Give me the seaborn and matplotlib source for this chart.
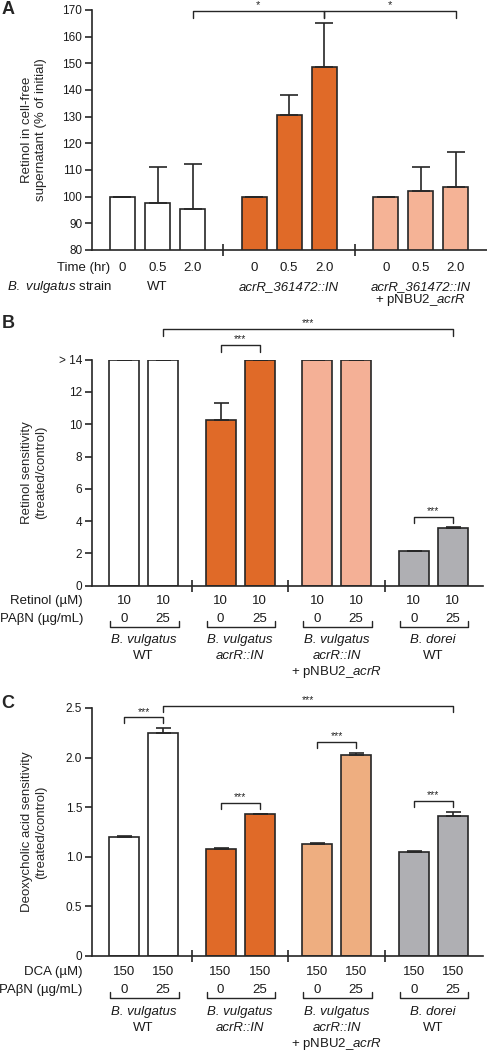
import matplotlib
matplotlib.use('Agg')
import matplotlib.pyplot as plt
import matplotlib.transforms as mtransforms
import seaborn as sns
import numpy as np
import pandas as pd

# ---- Panel A : retinol left in supernatant ----
a_time = ['0', '0.5', '2.0']
a_strains = ['WT', 'acrR_361472::IN', 'acrR_361472::IN + pNBU2_acrR']
a_mean = [100, 97.8, 95.2, 100, 130.5, 148.5, 100, 102.0, 103.8]
a_err = [0, 13.3, 17.0, 0, 7.5, 16.7, 0, 9.2, 13.0]
a_names = [
    [('WT', 'normal')],
    [('acrR_361472::IN', 'italic')],
    [('acrR_361472::IN', 'italic'), (r'+ pNBU2_$\mathit{acrR}$', 'normal')],
]

# ---- Panel B : retinol sensitivity ----
bc_strains = ['vulgatus WT', 'vulgatus acrR::IN', 'vulgatus acrR::IN + pNBU2_acrR', 'dorei WT']
b_retinol = [10, 10, 10, 10, 10, 10, 10, 10]
b_pabn = [0, 25, 0, 25, 0, 25, 0, 25]
b_mean = [14, 14, 10.25, 14, 14, 14, 2.15, 3.55]
b_err = [0, 0, 1.05, 0, 0, 0, 0.02, 0.07]

# ---- Panel C : deoxycholic acid sensitivity ----
c_dca = [150, 150, 150, 150, 150, 150, 150, 150]
c_pabn = [0, 25, 0, 25, 0, 25, 0, 25]
c_mean = [1.20, 2.25, 1.08, 1.43, 1.13, 2.03, 1.05, 1.415]
c_err = [0.01, 0.05, 0.01, 0.006, 0.012, 0.02, 0.005, 0.04]

bc_names = [
    [('B. vulgatus', 'italic'), ('WT', 'normal')],
    [('B. vulgatus', 'italic'), ('acrR::IN', 'italic')],
    [('B. vulgatus', 'italic'), ('acrR::IN', 'italic'), (r'+ pNBU2_$\mathit{acrR}$', 'normal')],
    [('B. dorei', 'italic'), ('WT', 'normal')],
]

EDGE = '#262626'
ORANGE = '#E06A28'
pal_a = dict(zip(a_strains, ['white', ORANGE, '#F5B396']))
pal_b = dict(zip(bc_strains, ['white', ORANGE, '#F4B096', '#AFAFB3']))
pal_c = dict(zip(bc_strains, ['white', ORANGE, '#EEAE80', '#AFAFB3']))

sns.set_style('ticks')
plt.rcParams['font.family'] = ['Liberation Sans', 'DejaVu Sans']
plt.rcParams['mathtext.fontset'] = 'custom'
plt.rcParams['mathtext.rm'] = 'Liberation Sans'
plt.rcParams['mathtext.it'] = 'Liberation Sans:italic'

FS = 9.5
W, H = 487, 1050
fig = plt.figure(figsize=(W / 100, H / 100), dpi=100)


def add_axes_px(left, top, right, bottom):
    return fig.add_axes([left / W, 1 - bottom / H, (right - left) / W, (bottom - top) / H])


def positions(n_groups, n_bars, step):
    return [g * step + i for g in range(n_groups) for i in range(n_bars)]


def style_axes(ax, seps, xlim):
    ax.spines[['top', 'right']].set_visible(False)
    for s in ['left', 'bottom']:
        ax.spines[s].set_linewidth(1.2)
        ax.spines[s].set_color(EDGE)
    ax.set_xlim(*xlim)
    ax.set_xticks([])
    ax.set_xticks(seps, minor=True)
    ax.tick_params(axis='x', which='minor', direction='inout', length=9, width=1.2, color=EDGE)
    ax.tick_params(axis='y', direction='out', length=5, width=1.2, color=EDGE,
                   labelsize=8.5, pad=2, labelcolor='#1a1a1a')
    ax.set_xlabel('')


def draw_bars(ax, pos, mean, err, strains, palette, width, capsize):
    df = pd.DataFrame({'pos': pos, 'value': mean, 'strain': strains})
    sns.barplot(data=df, x='pos', y='value', hue='strain', hue_order=list(palette),
                palette=palette, saturation=1, native_scale=True, dodge=False, width=width,
                errorbar=None, edgecolor=EDGE, linewidth=1.2, legend=False, ax=ax)
    ax.errorbar(pos, mean, yerr=[np.zeros(len(err)), err], fmt='none', ecolor=EDGE,
                elinewidth=1.2, capsize=capsize, capthick=1.2, zorder=3)


def sig(ax, x1, x2, y, drop, label='***', fs=7.5):
    ax.plot([x1, x1, x2, x2], [y - drop, y, y, y - drop], color=EDGE, lw=1.0,
            clip_on=False, zorder=4)
    ax.annotate(label, ((x1 + x2) / 2, y), xytext=(0, 0.5), textcoords='offset points',
                ha='center', va='bottom', fontsize=fs, color=EDGE, annotation_clip=False)


def below(ax, px):
    # distance below the x axis in pixels -> axes fraction
    return -px / (ax.get_position().height * H)


def xpx(ax, px):
    # figure pixel x -> axes fraction
    pos = ax.get_position()
    return (px / W - pos.x0) / pos.width


def under(ax, x, px, s, style='normal', fs=FS):
    trans = mtransforms.blended_transform_factory(ax.transData, ax.transAxes)
    ax.text(x, below(ax, px), s, transform=trans, ha='center', va='center',
            fontsize=fs, style=style, color='#1a1a1a', clip_on=False)


def row_title(ax, xright, px, s):
    ax.text(xpx(ax, xright), below(ax, px), s, transform=ax.transAxes, ha='right',
            va='center', fontsize=FS, color='#1a1a1a', clip_on=False)


# ================= Panel A =================
axA = add_axes_px(92, 10, 487, 250)
stepA = 3.76
posA = positions(3, 3, stepA)
strainsA = [s for s in a_strains for _ in range(3)]
draw_bars(axA, posA, a_mean, a_err, strainsA, pal_a, 0.72, 6.8)
style_axes(axA, [g * stepA + 2 + (stepA - 2) / 2 for g in range(2)], (-0.871, 10.41))
axA.set_ylim(80, 170)
axA.set_yticks(range(80, 171, 10))
axA.set_ylabel('Retinol in cell-free\nsupernatant (% of initial)', fontsize=FS)
axA.yaxis.set_label_coords(xpx(axA, 47), 0.5)

sig(axA, posA[2], posA[5], 169.6, 2.6, '*', 8)
sig(axA, posA[5], posA[8], 169.6, 2.6, '*', 8)

row_title(axA, 110, 18, 'Time (hr)')
row_title(axA, 112, 37, r'$\mathit{B.\ vulgatus}$ strain')
for i, p in enumerate(posA):
    under(axA, p, 18, a_time[i % 3])
for g, lines in enumerate(a_names):
    for k, (s, st) in enumerate(lines):
        under(axA, posA[g * 3 + 1], 37 + 13 * k, s, st)

# ================= Panel B =================
stepBC = 2.475
posBC = positions(4, 2, stepBC)
sepsBC = [g * stepBC + 1 + (stepBC - 1) / 2 for g in range(3)]
strainsBC = [s for s in bc_strains for _ in range(2)]

axB = add_axes_px(92, 359.7, 483, 585.7)
draw_bars(axB, posBC, b_mean, b_err, strainsBC, pal_b, 0.77, 5.4)
style_axes(axB, sepsBC, (-0.82, 9.2))
axB.set_ylim(0, 14)
axB.set_yticks(range(0, 15, 2))
axB.set_yticklabels([str(v) for v in range(0, 13, 2)] + ['> 14'])
axB.set_ylabel('Retinol sensitivity\n(treated/control)', fontsize=FS)
axB.yaxis.set_label_coords(xpx(axB, 47), 0.5)

topB = [m + e for m, e in zip(b_mean, b_err)]
sig(axB, posBC[1], posBC[7], 15.9, 0.45)
sig(axB, posBC[2], posBC[3], max(topB[2:4]) + 0.9, 0.43)
sig(axB, posBC[6], posBC[7], max(topB[6:8]) + 0.64, 0.38)

row_title(axB, 83, 15, 'Retinol (µM)')
row_title(axB, 83, 33, 'PAβN (µg/mL)')

# ================= Panel C =================
axC = add_axes_px(92, 708, 483, 956)
draw_bars(axC, posBC, c_mean, c_err, strainsBC, pal_c, 0.77, 5.4)
style_axes(axC, sepsBC, (-0.82, 9.2))
axC.set_ylim(0, 2.5)
axC.set_yticks([0, 0.5, 1.0, 1.5, 2.0, 2.5])
axC.set_yticklabels(['0', '0.5', '1.0', '1.5', '2.0', '2.5'])
axC.set_ylabel('Deoxycholic acid sensitivity\n(treated/control)', fontsize=FS)
axC.yaxis.set_label_coords(xpx(axC, 47), 0.5)

topC = [m + e for m, e in zip(c_mean, c_err)]
sig(axC, posBC[1], posBC[7], 2.518, 0.06)
for g in range(4):
    sig(axC, posBC[2 * g], posBC[2 * g + 1], max(topC[2 * g:2 * g + 2]) + 0.105, 0.058)

row_title(axC, 82, 16, 'DCA (µM)')
row_title(axC, 82, 34, 'PAβN (µg/mL)')

# shared bottom annotations for B and C
for ax, conc, pabn, off in [(axB, b_retinol, b_pabn, 0), (axC, c_dca, c_pabn, 1)]:
    for i, p in enumerate(posBC):
        under(ax, p, 15 + off, str(conc[i]))
        under(ax, p, 33 + off, str(pabn[i]))
    trans = mtransforms.blended_transform_factory(ax.transData, ax.transAxes)
    for g, lines in enumerate(bc_names):
        x0, x1 = posBC[2 * g] - 0.36, posBC[2 * g + 1] + 0.4
        yb, yt = below(ax, 41 + off), below(ax, 35 + off)
        ax.plot([x0, x0, x1, x1], [yt, yb, yb, yt], transform=trans, color=EDGE,
                lw=1.0, clip_on=False)
        for k, (s, st) in enumerate(lines):
            under(ax, (posBC[2 * g] + posBC[2 * g + 1]) / 2, 54 + 2 * off + 16 * k, s, st)

# panel letters
for letter, ypx in [('A', 9), ('B', 324), ('C', 703)]:
    fig.text(8 / W, 1 - ypx / H, letter, fontsize=13, fontweight='bold',
             ha='center', va='center')

fig.savefig('out.png', dpi=100)
